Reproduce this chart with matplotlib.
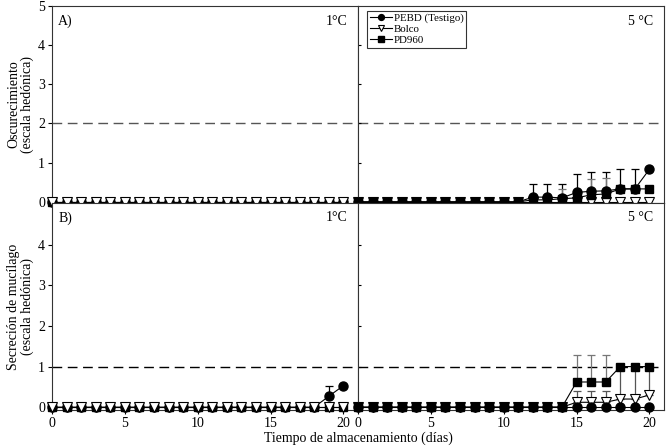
import matplotlib
matplotlib.use("Agg")
import matplotlib.pyplot as plt
import numpy as np

plt.rcParams['font.family'] = ['Liberation Serif', 'DejaVu Serif']

days = list(range(0, 21))
series_names = ["PEBD (Testigo)", "Bolco", "PD960"]

# A) Oscurecimiento, 1 °C
osc_1_pebd = [0]*21
osc_1_bolco = [0]*21
osc_1_pd960 = [0]*21
# A) Oscurecimiento, 5 °C
osc_5_pebd = [0]*12 + [0.12, 0.12, 0.10, 0.24, 0.27, 0.28, 0.33, 0.33, 0.83]
osc_5_pebd_err = [0]*12 + [0.34, 0.34, 0.36, 0.46, 0.48, 0.48, 0.51, 0.50, 0.0]
osc_5_bolco = [0]*21
osc_5_pd960 = [0]*12 + [0.05, 0.05, 0.08, 0.10, 0.18, 0.20, 0.33, 0.33, 0.33]
osc_5_pd960_err = [0]*12 + [0.0, 0.0, 0.25, 0.0, 0.40, 0.40, 0.0, 0.0, 0.0]

# B) Secreción de mucílago, 1 °C
muc_1_pebd = [0]*19 + [0.27, 0.53]
muc_1_pebd_err = [0]*19 + [0.24, 0.0]
muc_1_bolco = [0]*21
muc_1_pd960 = [0]*21
# B) Secreción de mucílago, 5 °C
muc_5_pebd = [0]*21
muc_5_bolco = [0]*15 + [0.12, 0.12, 0.12, 0.20, 0.20, 0.30]
muc_5_bolco_err = [0]*15 + [0.27, 0.27, 0.27, 0.80, 0.80, 0.70]
muc_5_pd960 = [0]*15 + [0.62, 0.62, 0.62, 1.0, 1.0, 1.0]
muc_5_pd960_err = [0]*15 + [0.66, 0.66, 0.66, 0.0, 0.0, 0.0]

ref_osc = 2
ref_muc = 1

fig = plt.figure(figsize=(6.7, 4.48), dpi=100)
W, H = 670, 448
def pos(x0, y0, x1, y1):
    return [x0/W, 1-y1/H, (x1-x0)/W, (y1-y0)/H]

ax_tl = fig.add_axes(pos(52, 6, 358, 203))
ax_tr = fig.add_axes(pos(358, 6, 664, 203))
ax_bl = fig.add_axes(pos(52, 203, 358, 410))
ax_br = fig.add_axes(pos(358, 203, 664, 410))

fs = 10

def draw(ax, pebd, bolco, pd960, pebd_err=None, bolco_err=None, pd_err=None, tri_top=False):
    x = np.array(days)
    ztri = 5 if tri_top else 2
    zo = 3
    def eb(y, e, col, z):
        if e is None:
            return
        e = np.array(e)
        m = e > 0
        if m.any():
            yy = np.array(y)[m]
            ax.errorbar(x[m], yy, yerr=[e[m] * 0, e[m]], fmt='none',
                        ecolor=col, elinewidth=0.9, capsize=3, capthick=0.9, zorder=z-0.5)
    eb(pebd, pebd_err, 'black', zo)
    eb(pd960, pd_err, '#777777', zo)
    eb(bolco, bolco_err, '#555555', ztri)
    ax.plot(x, pebd, color='black', lw=0.8, marker='o', ms=6.5, mfc='black', mec='black',
            zorder=zo+0.2, clip_on=False, label=series_names[0])
    ax.plot(x, bolco, color='black', lw=0.8, marker='v', ms=7, mfc='white', mec='black',
            mew=0.8, zorder=ztri, clip_on=False, label=series_names[1])
    ax.plot(x, pd960, color='black', lw=0.8, marker='s', ms=6, mfc='black', mec='black',
            zorder=zo+0.1, clip_on=False, label=series_names[2])

draw(ax_tl, osc_1_pebd, osc_1_bolco, osc_1_pd960, tri_top=True)
draw(ax_tr, osc_5_pebd, osc_5_bolco, osc_5_pd960, pebd_err=osc_5_pebd_err, pd_err=osc_5_pd960_err)
draw(ax_bl, muc_1_pebd, muc_1_bolco, muc_1_pd960, pebd_err=muc_1_pebd_err, tri_top=True)
draw(ax_br, muc_5_pebd, muc_5_bolco, muc_5_pd960, bolco_err=muc_5_bolco_err, pd_err=muc_5_pd960_err)

for ax in (ax_tl, ax_tr):
    ax.set_ylim(-0.03, 5)
    ax.axhline(ref_osc, color='#555555', lw=1.0, ls=(0, (7, 4)), zorder=1)
for ax in (ax_bl, ax_br):
    ax.set_ylim(-0.07, 5.03)
    ax.axhline(ref_muc, color='black', lw=1.0, ls=(0, (7, 4)), zorder=1)

for ax in (ax_tl, ax_tr, ax_bl, ax_br):
    ax.set_xlim(0, 21)
    ax.set_xticks([0, 5, 10, 15, 20])
    ax.tick_params(direction='out', length=3, width=0.8, labelsize=fs, pad=2)
    for s in ax.spines.values():
        s.set_linewidth(0.8)
        s.set_color('#333333')

ax_tl.set_yticks([0, 1, 2, 3, 4, 5])
ax_bl.set_yticks([0, 1, 2, 3, 4])
for ax in (ax_tr, ax_br):
    ax.set_yticks([0, 1, 2, 3, 4])
    ax.tick_params(axis='y', direction='in', labelleft=False, length=2)
for ax in (ax_tl, ax_tr):
    ax.tick_params(axis='x', labelbottom=False)

ax_tl.set_ylabel("Oscurecimiento\n(escala hedónica)", fontsize=fs, labelpad=3, linespacing=1.0)
ax_bl.set_ylabel("Secreción de mucílago\n(escala hedónica)", fontsize=fs, labelpad=3, linespacing=1.0)
fig.text(358/W, 1-438/H, "Tiempo de almacenamiento (días)", ha='center', va='center', fontsize=fs)

ax_tl.text(0.02, 0.955, "A)", transform=ax_tl.transAxes, fontsize=fs, va='top', ha='left')
ax_tl.text(0.965, 0.955, "1°C", transform=ax_tl.transAxes, fontsize=fs, va='top', ha='right')
ax_tr.text(0.965, 0.955, "5 °C", transform=ax_tr.transAxes, fontsize=fs, va='top', ha='right')
ax_bl.text(0.02, 0.96, "B)", transform=ax_bl.transAxes, fontsize=fs, va='top', ha='left')
ax_bl.text(0.965, 0.96, "1°C", transform=ax_bl.transAxes, fontsize=fs, va='top', ha='right')
ax_br.text(0.965, 0.96, "5 °C", transform=ax_br.transAxes, fontsize=fs, va='top', ha='right')

h, l = ax_tr.get_legend_handles_labels()
leg = ax_tr.legend(h, l, loc='upper left', bbox_to_anchor=(0.03, 0.975), borderaxespad=0,
                   fontsize=7.8, frameon=True, fancybox=False, edgecolor='black',
                   handlelength=2.0, handletextpad=0.2, labelspacing=0.1,
                   borderpad=0.25, markerscale=0.65)
leg.get_frame().set_linewidth(0.8)

fig.savefig("out.png", dpi=100)
